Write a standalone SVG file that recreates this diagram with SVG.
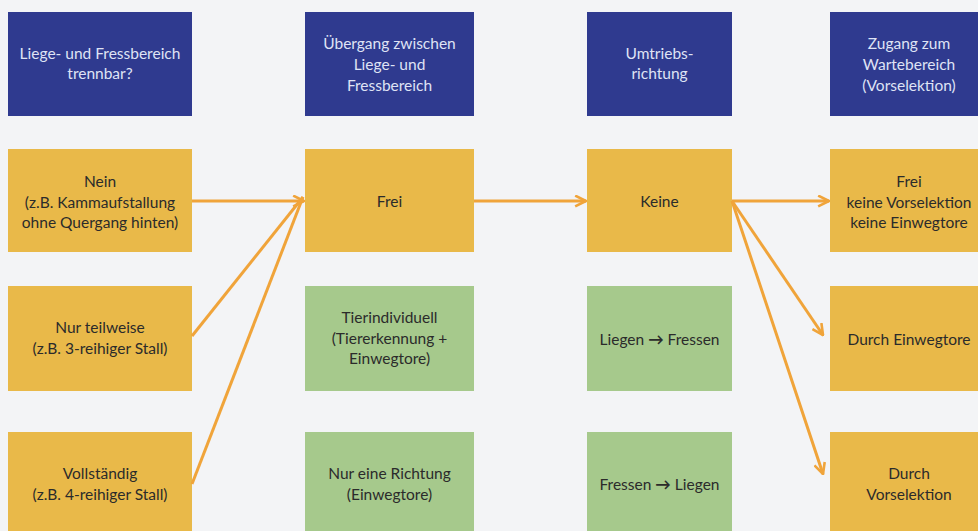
<svg xmlns="http://www.w3.org/2000/svg" width="978" height="531" viewBox="0 0 978 531">
<style>
  .hd { fill: #2f3a8f; }
  .yl { fill: #e9b949; }
  .gr { fill: #a6c98c; }
  text { font-family: Lato, "Open Sans", "Liberation Sans", sans-serif; font-size: 15.5px; text-anchor: middle; }
  .ht { fill: #dfe3f5; }
  .bt { fill: #2b2b2b; }
  .con line { stroke: #f0a43a; stroke-width: 3; fill: none; }
</style>
<defs>
  <marker id="ah" viewBox="0 0 12 12" refX="11" refY="6" markerWidth="13" markerHeight="13" orient="auto" markerUnits="userSpaceOnUse">
    <path d="M1,1 L11,6 L1,11" fill="none" stroke="#f0a43a" stroke-width="2.4" stroke-linejoin="miter"/>
  </marker>
</defs>
<rect width="978" height="531" fill="#f3f4f6"/>

<g id="h1"><rect class="hd" x="8" y="12" width="184" height="104"/>
  <text class="ht" x="100" y="59">Liege- und Fressbereich</text>
  <text class="ht" x="100" y="79">trennbar?</text></g>
<g id="h2"><rect class="hd" x="305" y="12" width="169" height="104"/>
  <text class="ht" x="389.5" y="49">Übergang zwischen</text>
  <text class="ht" x="389.5" y="70">Liege- und</text>
  <text class="ht" x="389.5" y="91">Fressbereich</text></g>
<g id="h3"><rect class="hd" x="587" y="12" width="145" height="104"/>
  <text class="ht" x="659.5" y="59">Umtriebs-</text>
  <text class="ht" x="659.5" y="79">richtung</text></g>
<g id="h4"><rect class="hd" x="830" y="12" width="160" height="104"/>
  <text class="ht" x="909" y="49">Zugang zum</text>
  <text class="ht" x="909" y="70">Wartebereich</text>
  <text class="ht" x="909" y="91">(Vorselektion)</text></g>

<g id="a1"><rect class="yl" x="8" y="149" width="184" height="103"/>
  <text class="bt" x="100" y="187">Nein</text>
  <text class="bt" x="100" y="208">(z.B. Kammaufstallung</text>
  <text class="bt" x="100" y="228">ohne Quergang hinten)</text></g>
<g id="a2"><rect class="yl" x="8" y="286" width="184" height="105"/>
  <text class="bt" x="100" y="333">Nur teilweise</text>
  <text class="bt" x="100" y="354">(z.B. 3-reihiger Stall)</text></g>
<g id="a3"><rect class="yl" x="8" y="432" width="184" height="105"/>
  <text class="bt" x="100" y="479">Vollständig</text>
  <text class="bt" x="100" y="500">(z.B. 4-reihiger Stall)</text></g>

<g id="b1"><rect class="yl" x="305" y="149" width="169" height="103"/>
  <text class="bt" x="389.5" y="207">Frei</text></g>
<g id="b2"><rect class="gr" x="305" y="286" width="169" height="105"/>
  <text class="bt" x="389.5" y="323">Tierindividuell</text>
  <text class="bt" x="389.5" y="344">(Tiererkennung +</text>
  <text class="bt" x="389.5" y="364">Einwegtore)</text></g>
<g id="b3"><rect class="gr" x="305" y="432" width="169" height="105"/>
  <text class="bt" x="389.5" y="479">Nur eine Richtung</text>
  <text class="bt" x="389.5" y="500">(Einwegtore)</text></g>

<g id="c1"><rect class="yl" x="587" y="149" width="145" height="103"/>
  <text class="bt" x="659.5" y="207">Keine</text></g>
<g id="c2"><rect class="gr" x="587" y="286" width="145" height="105"/>
  <text class="bt" x="659.5" y="345">Liegen <tspan font-weight="bold">→</tspan> Fressen</text></g>
<g id="c3"><rect class="gr" x="587" y="432" width="145" height="105"/>
  <text class="bt" x="659.5" y="490">Fressen <tspan font-weight="bold">→</tspan> Liegen</text></g>

<g id="d1"><rect class="yl" x="830" y="149" width="160" height="103"/>
  <text class="bt" x="909" y="187">Frei</text>
  <text class="bt" x="909" y="208">keine Vorselektion</text>
  <text class="bt" x="909" y="228">keine Einwegtore</text></g>
<g id="d2"><rect class="yl" x="830" y="286" width="160" height="105"/>
  <text class="bt" x="909" y="345">Durch Einwegtore</text></g>
<g id="d3"><rect class="yl" x="830" y="432" width="160" height="105"/>
  <text class="bt" x="909" y="479">Durch</text>
  <text class="bt" x="909" y="500">Vorselektion</text></g>

<g id="connectors" class="con">
  <line x1="192" y1="201" x2="304" y2="201" marker-end="url(#ah)"/>
  <line x1="192" y1="336" x2="303" y2="197"/>
  <line x1="192" y1="484" x2="303" y2="197"/>
  <line x1="474" y1="201" x2="586" y2="201" marker-end="url(#ah)"/>
  <line x1="732" y1="201" x2="829" y2="201" marker-end="url(#ah)"/>
  <line x1="732" y1="201" x2="823" y2="335" marker-end="url(#ah)"/>
  <line x1="732" y1="201" x2="823" y2="474" marker-end="url(#ah)"/>
</g>
</svg>
